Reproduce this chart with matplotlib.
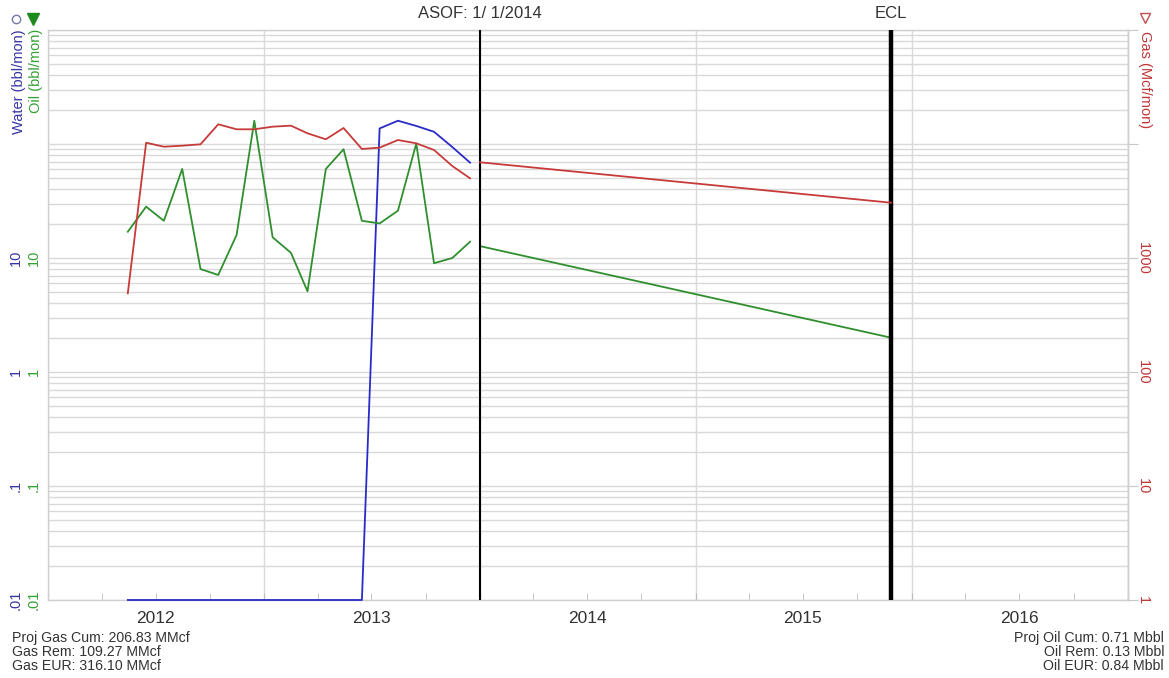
import numpy as np
import pandas as pd
import matplotlib
matplotlib.use("Agg")
import matplotlib.pyplot as plt
import matplotlib.dates as mdates
from matplotlib.ticker import FixedLocator, FuncFormatter, NullFormatter, NullLocator
from matplotlib.lines import Line2D

plt.rcParams["font.family"] = ["Liberation Sans", "DejaVu Sans"]

# --- production history (monthly, mid-month) ---
hist_months = ["2012-05", "2012-06", "2012-07", "2012-08", "2012-09", "2012-10",
               "2012-11", "2012-12", "2013-01", "2013-02", "2013-03", "2013-04",
               "2013-05", "2013-06", "2013-07", "2013-08", "2013-09", "2013-10",
               "2013-11", "2013-12"]
oil_hist = [17.0, 28.2, 21.2, 60.4, 8.0, 7.1, 15.9, 160.0, 15.2, 11.1,
            5.1, 60.4, 89.9, 21.2, 20.1, 26.0, 101.0, 9.0, 10.0, 13.9]          # bbl/mon
gas_hist = [490, 10260, 9470, 9660, 9940, 14890, 13460, 13460, 14190, 14480,
            12410, 11000, 13810, 9040, 9290, 10840, 10140, 8860, 6410, 5000]   # Mcf/mon
water_hist = [0.01, 0.01, 0.01, 0.01, 0.01, 0.01, 0.01, 0.01, 0.01, 0.01,
              0.01, 0.01, 0.01, 0.01, 137.0, 160.0, 144.0, 128.0, 94.0, 68.6]   # bbl/mon

# --- forecast from ASOF to economic limit ---
fc_dates = ["2014-01-01", "2015-11-27"]
oil_fc = [12.7, 2.0]
gas_fc = [6910, 3055]

asof_date = "2014-01-01"
ecl_date = "2015-11-27"

left_ticks = [10, 1, 0.1, 0.01]
left_tick_labels = ["10", "1", ".1", ".01"]
right_ticks = [1000, 100, 10, 1]
right_tick_labels = ["1000", "100", "10", "1"]

gas_stats = ["Proj Gas Cum: 206.83 MMcf", "Gas Rem: 109.27 MMcf", "Gas EUR: 316.10 MMcf"]
oil_stats = ["Proj Oil Cum: 0.71 Mbbl", "Oil Rem: 0.13 Mbbl", "Oil EUR: 0.84 Mbbl"]

RED = "#c83a3a"
GREEN = "#2f8f2f"
BLUE = "#2a2ac8"
GRID = "#d9d9d9"
TXT = "#333333"

W, H = 1169, 678
fig = plt.figure(figsize=(W / 100, H / 100), dpi=100)
ax = fig.add_axes([48 / W, 78 / H, 1080 / W, 570 / H])
ax2 = ax.twinx()

t_hist = pd.to_datetime(hist_months) + pd.Timedelta(days=14)
t_fc = pd.to_datetime(fc_dates)

ax.set_yscale("log")
ax.set_ylim(0.01, 1000)
ax2.set_yscale("log")
ax2.set_ylim(1, 1e5)
ax.set_xlim(pd.Timestamp("2012-01-01"), pd.Timestamp("2017-01-01"))

# grid: every log subdivision, year boundaries
ax.yaxis.grid(True, which="both", color=GRID, lw=1.0)
ax.xaxis.set_major_locator(mdates.YearLocator())
ax.xaxis.set_major_formatter(NullFormatter())
ax.xaxis.set_minor_locator(mdates.MonthLocator(bymonth=[4, 7, 10]))
ax.xaxis.set_minor_formatter(FuncFormatter(
    lambda v, pos: str(mdates.num2date(v).year) if mdates.num2date(v).month == 7 else ""))
ax.xaxis.grid(True, which="major", color=GRID, lw=1.0)
ax.tick_params(axis="x", which="both", direction="in", length=5, color="#bdbdbd",
               labelsize=12.5, labelcolor=TXT, pad=8)
ax.tick_params(axis="y", which="both", length=0, labelleft=False)
ax.set_axisbelow(True)

ax2.yaxis.set_major_locator(FixedLocator([1, 10, 100, 1000, 10000, 100000]))
ax2.yaxis.set_minor_locator(NullLocator())
ax2.tick_params(axis="y", which="major", direction="out", length=7, color="#c8c8c8",
                labelright=False)

for s in ax.spines.values():
    s.set_color("#cfcfcf")
    s.set_linewidth(1.0)
for name, s in ax2.spines.items():
    s.set_color("#cfcfcf")
    s.set_linewidth(1.0)
    s.set_visible(name == "right")

# history (water sits on the floor of the scale until it starts)
ax.plot(t_hist, water_hist, color=BLUE, lw=1.3, clip_on=False, zorder=3)
ax.plot(t_hist, oil_hist, color=GREEN, lw=1.3, zorder=3)
ax2.plot(t_hist, gas_hist, color=RED, lw=1.3, zorder=3)

# forecast
ax.plot(t_fc, oil_fc, color=GREEN, lw=1.3, zorder=3)
ax2.plot(t_fc, gas_fc, color=RED, lw=1.3, zorder=3)

# ASOF / ECL markers
ax.axvline(pd.Timestamp(asof_date), color="black", lw=1.5, zorder=4)
ax.axvline(pd.Timestamp(ecl_date), color="black", lw=3.2, zorder=4)
ax.text(pd.Timestamp(asof_date), 1.0 + 16 / 570, "ASOF: 1/ 1/2014", transform=ax.get_xaxis_transform(),
        ha="center", va="center", fontsize=12, color=TXT)
ax.text(pd.Timestamp(ecl_date), 1.0 + 16 / 570, "ECL", transform=ax.get_xaxis_transform(),
        ha="center", va="center", fontsize=12, color=TXT)

# left tick labels: water and oil columns
ytr = ax.get_yaxis_transform()
for v, lab in zip(left_ticks, left_tick_labels):
    ax.text(-32 / 1080, v, lab, transform=ytr, rotation=90, ha="center", va="center",
            fontsize=10.5, color="#3535a5")
    ax.text(-14 / 1080, v, lab, transform=ytr, rotation=90, ha="center", va="center",
            fontsize=10.5, color="#35a035")

# right tick labels: gas
ytr2 = ax2.get_yaxis_transform()
for v, lab in zip(right_ticks, right_tick_labels):
    ax2.text(1 + 15 / 1080, v, lab, transform=ytr2, rotation=-90, ha="center", va="center",
             fontsize=10.5, color="#c03535")

# axis titles
fig.text(19 / W, 1 - 29 / H, "Water (bbl/mon)", rotation=90, ha="center", va="top",
         fontsize=10.5, color="#3535a5")
fig.text(36 / W, 1 - 29 / H, "Oil (bbl/mon)", rotation=90, ha="center", va="top",
         fontsize=10.5, color="#35a035")
fig.add_artist(Line2D([16 / W], [1 - 19 / H], marker="o", mfc="white", mec="#7777aa",
                      ms=6, mew=1.0, transform=fig.transFigure))
fig.add_artist(Line2D([33 / W], [1 - 19 / H], marker="v", mfc="#1e8a1e", mec="#1e8a1e",
                      ms=8, transform=fig.transFigure))
fig.text(1145 / W, 1 - 31 / H, "Gas (Mcf/mon)", rotation=-90, ha="center", va="top",
         fontsize=10.5, color="#c03535")
fig.add_artist(Line2D([1145 / W], [1 - 18 / H], marker="v", mfc="white", mec="#c05050",
                      ms=7, mew=1.0, transform=fig.transFigure))

# reserves summary
for i, (g, o) in enumerate(zip(gas_stats, oil_stats)):
    y = 1 - (638 + 14 * i) / H
    fig.text(12 / W, y, g, ha="left", va="center", fontsize=10.2, color=TXT)
    fig.text(1164 / W, y, o, ha="right", va="center", fontsize=10.2, color=TXT)

fig.savefig("out.png", dpi=100)
